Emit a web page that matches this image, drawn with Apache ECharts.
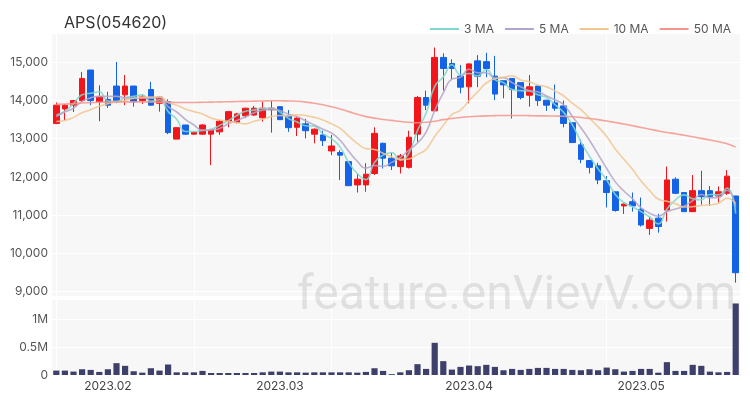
<!DOCTYPE html>
<html>
<head>
<meta charset="utf-8">
<script src="https://cdn.jsdelivr.net/npm/echarts@6/dist/echarts.min.js"></script>
<style>html,body{margin:0;padding:0;background:#fff;}#c{width:750px;height:400px;}</style>
</head>
<body>
<div id="c"></div>
<script>
var dates = ['2023-01-20','2023-01-25','2023-01-26','2023-01-27','2023-01-30','2023-01-31',
'2023-02-01','2023-02-02','2023-02-03','2023-02-06','2023-02-07','2023-02-08','2023-02-09','2023-02-10','2023-02-13','2023-02-14','2023-02-15','2023-02-16','2023-02-17','2023-02-20','2023-02-21','2023-02-22','2023-02-23','2023-02-24','2023-02-27','2023-02-28',
'2023-03-02','2023-03-03','2023-03-06','2023-03-07','2023-03-08','2023-03-09','2023-03-10','2023-03-13','2023-03-14','2023-03-15','2023-03-16','2023-03-17','2023-03-20','2023-03-21','2023-03-22','2023-03-23','2023-03-24','2023-03-27','2023-03-28','2023-03-29','2023-03-30','2023-03-31',
'2023-04-03','2023-04-04','2023-04-05','2023-04-06','2023-04-07','2023-04-10','2023-04-11','2023-04-12','2023-04-13','2023-04-14','2023-04-17','2023-04-18','2023-04-19','2023-04-20','2023-04-21','2023-04-24','2023-04-25','2023-04-26','2023-04-27','2023-04-28',
'2023-05-02','2023-05-03','2023-05-04','2023-05-08','2023-05-09','2023-05-10','2023-05-11','2023-05-12','2023-05-15','2023-05-16','2023-05-17','2023-05-18'];

var openP  = [13400,13780,13880,14000,14800,13970,14030,14380,14150,14380,14000,14290,13930,13970,12990,13360,13120,13120,13120,13180,13460,13430,13600,13620,13550,13760,13840,13600,13300,13390,13120,13100,12680,12640,12400,11790,11790,12090,12880,12490,12270,12250,13120,14080,13730,15130,14970,14640,14360,15040,15020,14640,14520,14580,14470,14140,14380,14010,13940,13860,13420,12840,12430,12290,11900,11610,11240,11350,11150,10650,10920,11130,11940,11590,11090,11640,11640,11500,11570,11500];
var closeP = [13880,13880,14000,14580,14000,14100,13880,13970,14380,13970,14100,13880,14090,13160,13290,13120,13170,13360,13230,13460,13710,13650,13800,13800,13800,13800,13500,13290,13540,13210,13250,12950,12810,12570,11770,11940,12070,13140,12490,12290,12550,13040,14080,13880,15130,14840,14840,14350,14960,14640,14840,14170,14410,14290,14080,14360,14000,13880,13800,13400,12900,12460,12250,11920,11590,11120,11290,11240,10740,10870,10700,11920,11570,11090,11640,11480,11480,11610,12020,9490];
var lowP   = [13380,13490,13700,13970,13880,13460,13810,13930,13880,13840,13910,13860,13710,13120,12990,13100,13110,13100,12310,13100,13300,13400,13540,13600,13450,13160,13490,13180,13070,13010,12880,12810,12570,11920,11770,11590,11610,12050,12220,12180,12090,12220,12920,13750,13710,14260,14560,14190,13930,14350,14610,14010,14060,13530,14030,13840,13860,13730,13730,13300,12900,12360,12090,11810,11200,11090,11030,11090,10700,10480,10540,10830,11550,11090,11090,11270,11240,11330,11530,9230];
var highP  = [13950,13910,14020,14750,14800,14400,14230,15010,14670,14380,14160,14490,14120,14030,13300,13360,13180,13380,13250,13490,13730,13680,13810,13860,13970,13990,13850,13750,13560,13520,13270,13210,13100,12700,12400,12090,12360,13300,12900,12630,12600,13210,14120,14260,15390,15240,15080,14930,14970,15190,15250,15170,14520,14580,14470,14670,14380,14010,14420,14000,13420,12980,12430,12370,12020,11610,11300,11590,11460,10960,11030,12270,11990,11590,12050,12160,11760,11750,12180,11500];
var volume = [79000,79000,61000,103000,91000,55000,103000,212000,164000,67000,42000,121000,79000,188000,48000,48000,48000,73000,36000,36000,36000,36000,36000,36000,48000,61000,61000,48000,48000,42000,48000,48000,48000,48000,48000,42000,55000,121000,73000,15000,48000,85000,194000,109000,576000,248000,97000,145000,170000,158000,182000,145000,85000,109000,91000,109000,127000,127000,109000,109000,91000,85000,103000,85000,133000,103000,61000,73000,109000,109000,42000,230000,73000,73000,182000,164000,61000,48000,55000,1280000];

var ma3  = [13620,13720,13920,14150,14190,14230,13990,13980,14080,14110,14150,13980,14020,13710,13510,13190,13190,13220,13250,13350,13470,13610,13720,13750,13800,13800,13700,13530,13440,13340,13330,13130,13000,12780,12380,12090,11930,12380,12570,12640,12440,12620,13220,13670,14370,14620,14940,14680,14710,14650,14810,14550,14470,14290,14260,14250,14150,14080,13890,13690,13370,12920,12540,12210,11920,11540,11330,11220,11090,10950,10770,11160,11400,11530,11430,11400,11540,11530,11710,11040];
var ma5  = [13580,13700,13800,13980,14070,14110,14110,14110,14070,14060,14060,14060,14080,13840,13700,13510,13360,13220,13230,13270,13390,13480,13570,13680,13750,13770,13740,13640,13580,13470,13360,13250,13150,12960,12670,12410,12230,12300,12280,12380,12510,12700,12890,13170,13740,14200,14560,14610,14820,14730,14730,14590,14600,14470,14360,14260,14230,14120,14020,13890,13590,13290,12960,12590,12220,11870,11630,11430,11190,11050,10970,11090,11160,11230,11380,11540,11450,11460,11650,11220];
var ma10 = [13450,13480,13560,13680,13760,13850,13920,13960,14010,14060,14090,14090,14100,13950,13880,13780,13710,13650,13540,13490,13450,13420,13390,13460,13510,13580,13610,13600,13630,13610,13560,13490,13390,13270,13070,12880,12740,12720,12620,12530,12460,12470,12590,12720,13060,13350,13630,13750,14000,14230,14460,14570,14610,14650,14540,14490,14410,14360,14250,14120,13930,13760,13540,13310,13060,12730,12460,12200,11890,11640,11420,11360,11300,11210,11220,11250,11270,11310,11440,11300];
var ma50 = [13900,13910,13920,13935,13945,13955,13960,13965,13965,13965,13965,13965,13960,13955,13950,13950,13950,13955,13960,13965,13970,13975,13980,13985,13990,13995,13995,13990,13980,13960,13930,13890,13840,13780,13710,13640,13580,13540,13505,13480,13450,13430,13420,13430,13460,13500,13530,13555,13575,13590,13600,13605,13610,13610,13610,13605,13600,13598,13594,13590,13575,13555,13530,13500,13465,13425,13385,13340,13295,13250,13205,13165,13130,13090,13050,13010,12965,12920,12870,12780];

var priceMin = 8880, priceMax = 15770, volMax = 1360000;
var titleText = 'APS(054620)';
var watermark = 'feature.enVievV.com';

var ohlc = dates.map(function (d, i) { return [openP[i], closeP[i], lowP[i], highP[i]]; });
var UP = '#f2161c', DOWN = '#1463e6';
var FONT = 'Inter, Roboto, sans-serif';

function monthLabelIdx(i) {
  return i > 0 && dates[i].slice(0, 7) !== dates[i - 1].slice(0, 7);
}

var chart = echarts.init(document.getElementById('c'), null, {renderer: 'canvas'});
var maStyle = function (name, data, color) {
  return {name: name, type: 'line', data: data, xAxisIndex: 0, yAxisIndex: 0, smooth: true,
    showSymbol: false, symbol: 'none', z: 5,
    lineStyle: {color: color, width: 1.6, opacity: 0.85}, itemStyle: {color: color}};
};
chart.setOption({
  animation: false,
  backgroundColor: '#ffffff',
  textStyle: {fontFamily: FONT},
  title: {text: titleText, left: 59, top: 10,
    textStyle: {fontSize: 16, fontWeight: 'normal', color: '#333', fontFamily: FONT}},
  legend: {right: 14, top: 18, icon: 'rect', itemWidth: 29, itemHeight: 2, itemGap: 11,
    textStyle: {fontSize: 12, color: '#555', fontFamily: FONT},
    data: ['3 MA', '5 MA', '10 MA', '50 MA']},
  grid: [
    {left: 52, right: 10, top: 33, height: 263, show: true, backgroundColor: '#f7f7f7', borderWidth: 0},
    {left: 52, right: 10, top: 299, height: 76, show: true, backgroundColor: '#f7f7f7', borderWidth: 0}
  ],
  xAxis: [
    {type: 'category', gridIndex: 0, data: dates, boundaryGap: true,
      axisLine: {show: false}, axisTick: {show: false}, axisLabel: {show: false},
      splitLine: {show: true, interval: 15, alignWithLabel: true, lineStyle: {color: '#ffffff', width: 1}}},
    {type: 'category', gridIndex: 1, data: dates, boundaryGap: true,
      axisLine: {show: false}, axisTick: {show: false},
      axisLabel: {show: true, interval: function (i) { return monthLabelIdx(i); },
        formatter: function (v) { return v.slice(0, 7).replace('-', '.'); },
        color: '#444', fontSize: 12, margin: 5, fontFamily: FONT},
      splitLine: {show: true, interval: 15, alignWithLabel: true, lineStyle: {color: '#ffffff', width: 1}}}
  ],
  yAxis: [
    {type: 'value', gridIndex: 0, min: priceMin, max: priceMax, splitNumber: 5, scale: true,
      axisLine: {show: false}, axisTick: {show: false},
      axisLabel: {color: '#555', fontSize: 12, margin: 4, fontFamily: FONT, showMinLabel: false, showMaxLabel: false,
        formatter: function (v) { return (v % 1000 === 0) ? v.toLocaleString('en-US') : ''; }},
      splitLine: {show: true, lineStyle: {color: '#ffffff', width: 1}}},
    {type: 'value', gridIndex: 1, min: 0, max: volMax, interval: 500000,
      axisLine: {show: false}, axisTick: {show: false},
      axisLabel: {color: '#555', fontSize: 12, margin: 4, fontFamily: FONT, showMaxLabel: false,
        formatter: function (v) { if (v === 0) return '0'; if (v % 500000 !== 0) return ''; return (v / 1000000) + 'M'; }},
      splitLine: {show: true, lineStyle: {color: '#ffffff', width: 1}}}
  ],
  graphic: [{type: 'text', right: 14, top: 273, z: 100, silent: true,
    style: {text: watermark, fontSize: 48, fontFamily: 'Roboto, sans-serif', fill: 'rgba(160,160,160,0.28)'}}],
  series: [
    {name: 'price', type: 'candlestick', data: ohlc, xAxisIndex: 0, yAxisIndex: 0, barWidth: '72%', z: 3,
      itemStyle: {color: UP, color0: DOWN, borderColor: UP, borderColor0: DOWN, borderWidth: 1}},
    maStyle('3 MA', ma3, '#7fd8cd'),
    maStyle('5 MA', ma5, '#b4a4c9'),
    maStyle('10 MA', ma10, '#f1c690'),
    maStyle('50 MA', ma50, '#f4958c'),
    {name: 'volume', type: 'bar', data: volume, xAxisIndex: 1, yAxisIndex: 1, barWidth: '72%',
      itemStyle: {color: '#3e3f6b'}}
  ]
});
</script>
</body>
</html>
